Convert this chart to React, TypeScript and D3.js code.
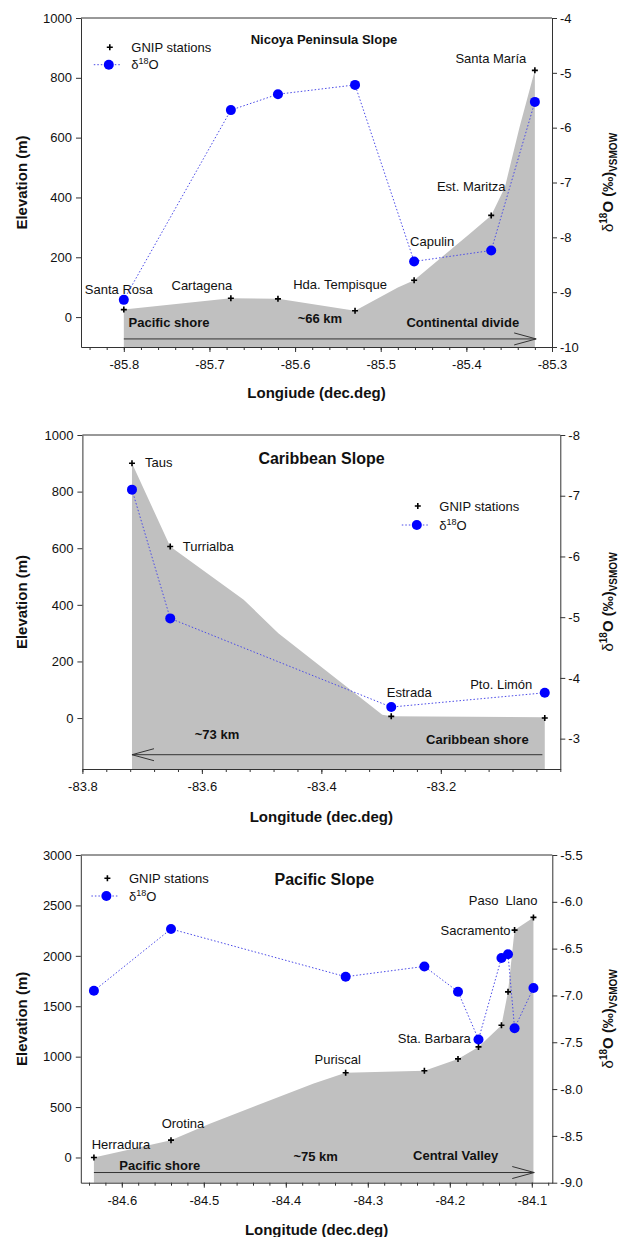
import React, { useEffect, useRef } from 'react';
import * as d3 from 'd3';

// ---------- Nicoya Peninsula Slope ----------
const nicoyaStations = ['Santa Rosa', 'Cartagena', '', 'Hda. Tempisque', 'Capulin', 'Est. Maritza', 'Santa María'];
const nicoyaLon = [-85.8, -85.675, -85.62, -85.53, -85.461, -85.371, -85.32];
const nicoyaElev = [25, 63, 61, 21, 123, 340, 825];
const nicoyaD18O = [-9.14, -5.68, -5.39, -5.22, -8.44, -8.24, -5.53];
const nicoyaGroundLon = [-85.8, -85.675, -85.62, -85.53, -85.48, -85.461, -85.396, -85.371, -85.355, -85.338, -85.32];
const nicoyaGroundElev = [25, 63, 61, 21, 99, 123, 279, 340, 434, 634, 825];

// ---------- Caribbean Slope ----------
const caribStations = ['Taus', 'Turrialba', 'Estrada', 'Pto. Limón'];
const caribLon = [-83.717, -83.653, -83.283, -83.026];
const caribElev = [900, 606, 6, 0];
const caribD18O = [-7.1, -4.98, -3.52, -3.755];
const caribGroundLon = [-83.717, -83.653, -83.53, -83.472, -83.298, -83.283, -83.026];
const caribGroundElev = [900, 606, 418, 300, 12, 6, 3];

// ---------- Pacific Slope ----------
const pacStations = ['Herradura', 'Orotina', 'Puriscal', '', '', 'Sta. Barbara', '', '', 'Sacramento', 'Paso  Llano'];
const pacLon = [-84.634, -84.54, -84.327, -84.231, -84.19, -84.165, -84.137, -84.129, -84.121, -84.098];
const pacElev = [0, 172, 840, 860, 978, 1097, 1312, 1643, 2255, 2381];
const pacD18O = [-6.95, -6.29, -6.8, -6.69, -6.96, -7.47, -6.6, -6.56, -7.35, -6.92];
const pacGroundLon = [-84.634, -84.54, -84.492, -84.366, -84.327, -84.231, -84.19, -84.165, -84.137, -84.129, -84.121, -84.098];
const pacGroundElev = [0, 172, 337, 734, 840, 860, 978, 1097, 1312, 1643, 2255, 2381];

// tick values
const nicoyaXTicks = [-85.8, -85.7, -85.6, -85.5, -85.4, -85.3];
const nicoyaYTicks = [0, 200, 400, 600, 800, 1000];
const nicoyaRTicks = [-10, -9, -8, -7, -6, -5, -4];
const caribXTicks = [-83.8, -83.6, -83.4, -83.2];
const caribYTicks = [0, 200, 400, 600, 800, 1000];
const caribRTicks = [-8, -7, -6, -5, -4, -3];
const pacXTicks = [-84.6, -84.5, -84.4, -84.3, -84.2, -84.1];
const pacYTicks = [0, 500, 1000, 1500, 2000, 2500, 3000];
const pacRTicks = [-9, -8.5, -8, -7.5, -7, -6.5, -6, -5.5];

const FONT = '"Liberation Sans", Arial, Helvetica, sans-serif';
const AXIS = '#333';

interface Label { dx: number; dy: number; anchor: string }
interface Note { text: string; lon: number; elev: number; anchor: string }

interface Panel {
  title: string; titleSize: number; titleX: number; titleY: number;
  left: number; right: number; top: number; bottom: number;
  xDomain: [number, number]; xTicks: number[]; xMinorStep: number; xTitle: string; xTitleY: number;
  yDomain: [number, number]; yTicks: number[];
  rDomain: [number, number]; rTicks: number[]; rDigits: number;
  stations: string[]; lon: number[]; elev: number[]; d18o: number[];
  groundLon: number[]; groundElev: number[];
  labels: Label[]; notes: Note[];
  arrow: { from: number; to: number; elev: number };
  legendX: number; legendY: number; legendGap: number;
}

const panels: Panel[] = [
  {
    title: 'Nicoya Peninsula Slope', titleSize: 13, titleX: 324, titleY: 43.5,
    left: 81, right: 552, top: 18, bottom: 347,
    xDomain: [-85.85, -85.3], xTicks: nicoyaXTicks, xMinorStep: 0.02, xTitle: 'Longiude (dec.deg)', xTitleY: 398,
    yDomain: [1000, -100], yTicks: nicoyaYTicks,
    rDomain: [-4, -10], rTicks: nicoyaRTicks, rDigits: 0,
    stations: nicoyaStations, lon: nicoyaLon, elev: nicoyaElev, d18o: nicoyaD18O,
    groundLon: nicoyaGroundLon, groundElev: nicoyaGroundElev,
    labels: [
      { dx: -5, dy: -15.5, anchor: 'middle' },
      { dx: -29, dy: -8.5, anchor: 'middle' },
      { dx: 0, dy: 0, anchor: 'middle' },
      { dx: -15, dy: -22, anchor: 'middle' },
      { dx: 18, dy: -34.5, anchor: 'middle' },
      { dx: -20, dy: -24.5, anchor: 'middle' },
      { dx: -44, dy: -7, anchor: 'middle' },
    ],
    notes: [
      { text: 'Pacific shore', lon: -85.7945, elev: -34, anchor: 'start' },
      { text: '~66 km', lon: -85.571, elev: -21, anchor: 'middle' },
      { text: 'Continental divide', lon: -85.3384, elev: -32, anchor: 'end' },
    ],
    arrow: { from: -85.8, to: -85.3185, elev: -73 },
    legendX: 109.8, legendY: 47.3, legendGap: 17.4,
  },
  {
    title: 'Caribbean Slope', titleSize: 16, titleX: 321.5, titleY: 464,
    left: 82.4, right: 560.3, top: 435, bottom: 769,
    xDomain: [-83.8, -83.0], xTicks: caribXTicks, xMinorStep: 0.04, xTitle: 'Longitude (dec.deg)', xTitleY: 822,
    yDomain: [1000, -180], yTicks: caribYTicks,
    rDomain: [-8, -2.5], rTicks: caribRTicks, rDigits: 0,
    stations: caribStations, lon: caribLon, elev: caribElev, d18o: caribD18O,
    groundLon: caribGroundLon, groundElev: caribGroundElev,
    labels: [
      { dx: 13, dy: 4, anchor: 'start' },
      { dx: 12.6, dy: 4, anchor: 'start' },
      { dx: 18, dy: -19.5, anchor: 'middle' },
      { dx: -43.5, dy: -29.5, anchor: 'middle' },
    ],
    notes: [
      { text: '~73 km', lon: -83.5747, elev: -75, anchor: 'middle' },
      { text: 'Caribbean shore', lon: -83.053, elev: -90, anchor: 'end' },
    ],
    arrow: { from: -83.03, to: -83.717, elev: -129.5 },
    legendX: 417.8, legendY: 506, legendGap: 19,
  },
  {
    title: 'Pacific Slope', titleSize: 16, titleX: 324.3, titleY: 884.7,
    left: 80.8, right: 552.3, top: 855, bottom: 1182.7,
    xDomain: [-84.65, -84.075], xTicks: pacXTicks, xMinorStep: 0.02, xTitle: 'Longitude (dec.deg)', xTitleY: 1235,
    yDomain: [3000, -250], yTicks: pacYTicks,
    rDomain: [-5.5, -9], rTicks: pacRTicks, rDigits: 1,
    stations: pacStations, lon: pacLon, elev: pacElev, d18o: pacD18O,
    groundLon: pacGroundLon, groundElev: pacGroundElev,
    labels: [
      { dx: 27, dy: -8.5, anchor: 'middle' },
      { dx: 12, dy: -12.5, anchor: 'middle' },
      { dx: -8, dy: -8.5, anchor: 'middle' },
      { dx: 0, dy: 0, anchor: 'middle' },
      { dx: 0, dy: 0, anchor: 'middle' },
      { dx: -7.7, dy: -3.5, anchor: 'end' },
      { dx: 0, dy: 0, anchor: 'middle' },
      { dx: 0, dy: 0, anchor: 'middle' },
      { dx: -4, dy: 4.5, anchor: 'end' },
      { dx: 4, dy: -12.5, anchor: 'end' },
    ],
    notes: [
      { text: 'Pacific shore', lon: -84.603, elev: -121, anchor: 'start' },
      { text: '~75 km', lon: -84.3636, elev: -32, anchor: 'middle' },
      { text: 'Central Valley', lon: -84.1928, elev: -22, anchor: 'middle' },
    ],
    arrow: { from: -84.634, to: -84.097, elev: -149 },
    legendX: 107.4, legendY: 878.3, legendGap: 17.7,
  },
];

function drawPanel(root: d3.Selection<SVGGElement, unknown, null, undefined>, p: Panel) {
  const x = d3.scaleLinear().domain(p.xDomain).range([p.left, p.right]);
  const y = d3.scaleLinear().domain(p.yDomain).range([p.top, p.bottom]);
  const r = d3.scaleLinear().domain(p.rDomain).range([p.top, p.bottom]);
  const g = root.append('g');

  // terrain profile
  const ground = d3.area<number>()
    .x(i => x(p.groundLon[i]))
    .y0(p.bottom)
    .y1(i => y(p.groundElev[i]));
  g.append('path')
    .datum(d3.range(p.groundLon.length))
    .attr('d', ground)
    .attr('fill', '#c0c0c0');

  // distance arrow
  const ay = y(p.arrow.elev);
  const x0 = x(p.arrow.from);
  const x1 = x(p.arrow.to);
  const dir = Math.sign(x1 - x0);
  g.append('line').attr('x1', x0).attr('x2', x1).attr('y1', ay).attr('y2', ay)
    .attr('stroke', '#333').attr('stroke-width', 1);
  g.append('path')
    .attr('d', `M${x1 - dir * 22},${ay - 6}L${x1},${ay}L${x1 - dir * 22},${ay + 6}`)
    .attr('fill', 'none').attr('stroke', '#333').attr('stroke-width', 1);

  g.selectAll('text.note')
    .data(p.notes)
    .enter()
    .append('text')
    .attr('class', 'note')
    .attr('x', d => x(d.lon))
    .attr('y', d => y(d.elev))
    .attr('text-anchor', d => d.anchor)
    .attr('font-weight', 'bold')
    .attr('font-size', 13)
    .text(d => d.text);

  // axes
  const fmtX = (v: d3.NumberValue) => (+v).toFixed(1);
  const bottomAxis = g.append('g')
    .attr('transform', `translate(0,${p.bottom})`)
    .call(d3.axisBottom(x).tickValues(p.xTicks).tickSize(5).tickPadding(8).tickSizeOuter(0).tickFormat(fmtX));
  const minor = d3.range(Math.ceil(p.xDomain[0] / p.xMinorStep - 1e-6), Math.floor(p.xDomain[1] / p.xMinorStep + 1e-6) + 1)
    .map(k => k * p.xMinorStep);
  const minorAxis = g.append('g')
    .attr('transform', `translate(0,${p.bottom})`)
    .call(d3.axisBottom(x).tickValues(minor).tickSize(3).tickSizeOuter(0).tickFormat(() => ''));
  minorAxis.select('.domain').remove();

  const leftAxis = g.append('g')
    .attr('transform', `translate(${p.left},0)`)
    .call(d3.axisLeft(y).tickValues(p.yTicks).tickSize(5).tickPadding(4).tickSizeOuter(0).tickFormat(v => String(v)));
  const rightAxis = g.append('g')
    .attr('transform', `translate(${p.right},0)`)
    .call(d3.axisRight(r).tickValues(p.rTicks).tickSize(5).tickPadding(3).tickSizeOuter(0)
      .tickFormat(v => (+v).toFixed(p.rDigits)));
  g.append('line').attr('x1', p.left).attr('x2', p.right).attr('y1', p.top).attr('y2', p.top)
    .attr('stroke', AXIS).attr('stroke-width', 1);

  [bottomAxis, minorAxis, leftAxis, rightAxis].forEach(a => {
    a.selectAll('path, line').attr('stroke', AXIS);
    a.selectAll('text').attr('font-size', 13).attr('font-family', FONT).attr('fill', '#111');
  });

  // station labels
  g.selectAll('text.station')
    .data(p.stations.map((s, i) => ({ s, i })).filter(d => d.s !== ''))
    .enter()
    .append('text')
    .attr('class', 'station')
    .attr('x', d => x(p.lon[d.i]) + p.labels[d.i].dx)
    .attr('y', d => y(p.elev[d.i]) + p.labels[d.i].dy)
    .attr('text-anchor', d => p.labels[d.i].anchor)
    .attr('font-size', 13)
    .style('white-space', 'pre')
    .text(d => d.s);

  // GNIP station markers
  g.selectAll('path.station')
    .data(d3.range(p.lon.length))
    .enter()
    .append('path')
    .attr('class', 'station')
    .attr('transform', i => `translate(${x(p.lon[i])},${y(p.elev[i])})`)
    .attr('d', 'M-3,0H3M0,-3V3')
    .attr('stroke', '#000')
    .attr('stroke-width', 1.6);

  // d18O series
  const line = d3.line<number>().x(i => x(p.lon[i])).y(i => r(p.d18o[i]));
  g.append('path')
    .datum(d3.range(p.lon.length))
    .attr('d', line)
    .attr('fill', 'none')
    .attr('stroke', '#4a4ae8')
    .attr('stroke-width', 1)
    .attr('stroke-dasharray', '1.5,2');
  g.selectAll('circle.d18o')
    .data(d3.range(p.lon.length))
    .enter()
    .append('circle')
    .attr('class', 'd18o')
    .attr('cx', i => x(p.lon[i]))
    .attr('cy', i => r(p.d18o[i]))
    .attr('r', 5)
    .attr('fill', '#0000ff');

  // title
  g.append('text')
    .attr('x', p.titleX).attr('y', p.titleY)
    .attr('text-anchor', 'middle')
    .attr('font-weight', 'bold')
    .attr('font-size', p.titleSize)
    .text(p.title);

  // legend
  const lx = p.legendX;
  const ly = p.legendY;
  g.append('path').attr('d', `M${lx - 3},${ly}H${lx + 3}M${lx},${ly - 3}V${ly + 3}`)
    .attr('stroke', '#000').attr('stroke-width', 1.6);
  g.append('text').attr('x', lx + 21.5).attr('y', ly + 4.5).attr('font-size', 13).text('GNIP stations');
  const ly2 = ly + p.legendGap;
  g.append('line').attr('x1', lx - 16).attr('x2', lx + 11).attr('y1', ly2).attr('y2', ly2)
    .attr('stroke', '#4a4ae8').attr('stroke-width', 1).attr('stroke-dasharray', '1.5,2');
  g.append('circle').attr('cx', lx - 1).attr('cy', ly2).attr('r', 5).attr('fill', '#0000ff');
  const lt = g.append('text').attr('x', lx + 21.5).attr('y', ly2 + 4.5).attr('font-size', 13);
  lt.append('tspan').text('δ');
  lt.append('tspan').attr('font-size', 9).attr('dy', -5).text('18');
  lt.append('tspan').attr('dy', 5).text('O');

  // axis titles
  const midX = (p.left + p.right) / 2;
  const midY = (p.top + p.bottom) / 2;
  g.append('text')
    .attr('x', midX).attr('y', p.xTitleY)
    .attr('text-anchor', 'middle').attr('font-weight', 'bold').attr('font-size', 15)
    .text(p.xTitle);
  g.append('text')
    .attr('transform', `translate(26.5,${midY}) rotate(-90)`)
    .attr('text-anchor', 'middle').attr('font-weight', 'bold').attr('font-size', 15)
    .text('Elevation (m)');
  const rt = g.append('text')
    .attr('transform', `translate(612.5,${midY}) rotate(-90)`)
    .attr('text-anchor', 'middle').attr('font-weight', 'bold').attr('font-size', 15);
  rt.append('tspan').attr('font-weight', 'normal').text('δ');
  rt.append('tspan').attr('font-size', 10).attr('dy', -6).text('18');
  rt.append('tspan').attr('dy', 6).text('O (‰)');
  rt.append('tspan').attr('font-size', 10).attr('dy', 4).text('VSMOW');
}

const App: React.FC = () => {
  const svgRef = useRef<SVGSVGElement>(null);

  useEffect(() => {
    if (!svgRef.current) return;
    d3.select(svgRef.current).selectAll('*').remove();
    const root = d3.select(svgRef.current).append('g').attr('font-family', FONT).attr('fill', '#111');
    panels.forEach(p => drawPanel(root, p));
  }, []);

  return (
    <svg
      ref={svgRef}
      width={624}
      height={1237}
      style={{ position: 'absolute', left: 0, top: 0, background: '#fff' }}
    />
  );
};

export default App;
